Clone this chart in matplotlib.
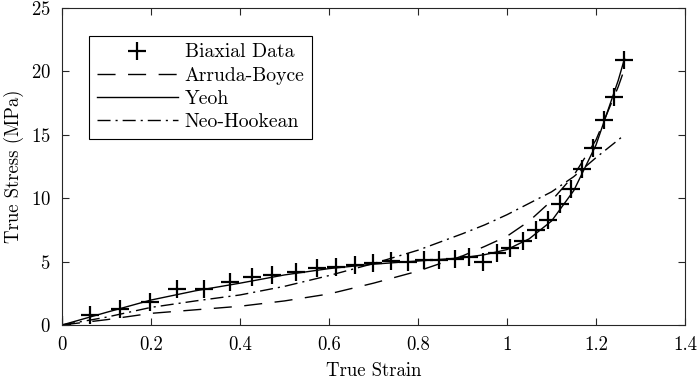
import matplotlib
matplotlib.use('Agg')
import matplotlib.pyplot as plt
import numpy as np

plt.rcParams['font.family'] = 'serif'
plt.rcParams['font.serif'] = ['cmr10']
plt.rcParams['mathtext.fontset'] = 'cm'
plt.rcParams['axes.formatter.use_mathtext'] = True

# Biaxial test data (true strain, true stress in MPa)
data_strain = [0, 0.063, 0.130, 0.198, 0.258, 0.318, 0.378, 0.426, 0.473, 0.526,
               0.572, 0.615, 0.658, 0.700, 0.739, 0.778, 0.814, 0.848, 0.883, 0.915,
               0.947, 0.977, 1.007, 1.037, 1.065, 1.093, 1.119, 1.143, 1.168, 1.194,
               1.218, 1.241, 1.264]
data_stress = [0, 0.79, 1.24, 1.84, 2.81, 2.81, 3.42, 3.81, 3.94, 4.2,
               4.52, 4.6, 4.73, 4.91, 5.05, 5.0, 5.13, 5.13, 5.18, 5.39,
               5.0, 5.65, 6.1, 6.6, 7.49, 8.28, 9.54, 10.7, 12.28, 13.94,
               16.2, 18.0, 20.9]

# Model fits
fit_strain = [0, 0.1, 0.2, 0.3, 0.4, 0.5, 0.6, 0.7, 0.8, 0.9, 0.95, 1.0,
              1.05, 1.1, 1.15, 1.2, 1.25, 1.264]
arruda_boyce = [0, 0.42, 0.92, 1.2, 1.48, 1.9, 2.45, 3.3, 4.25, 5.45, 6.2, 7.0,
                8.2, 9.8, 11.8, 14.6, 18.8, 20.2]
yeoh = [0, 1.0, 1.97, 2.7, 3.3, 3.95, 4.45, 4.8, 5.05, 5.3, 5.55, 5.95,
        6.8, 8.2, 10.6, 14.2, 19.3, 21.0]
neo_hookean = [0, 0.62, 1.39, 1.9, 2.37, 3.05, 3.9, 4.85, 5.9, 7.2, 7.9, 8.7,
               9.6, 10.5, 11.7, 13.2, 14.6, 15.0]

fig = plt.figure(figsize=(6.98, 3.84), dpi=100)
ax = fig.add_axes([0.0888, 0.1536, 0.8926, 0.8255])

ax.plot(data_strain, data_stress, '+', color='black', markersize=13,
        markeredgewidth=1.6, label='Biaxial Data')
ax.plot(fit_strain, arruda_boyce, color='black', linewidth=1.0,
        linestyle=(0, (13, 9)), label='Arruda-Boyce')
ax.plot(fit_strain, yeoh, color='black', linewidth=1.0, linestyle='-', label='Yeoh')
ax.plot(fit_strain, neo_hookean, color='black', linewidth=1.0,
        linestyle=(0, (9.4, 3.6, 1.5, 3.6)), label='Neo-Hookean')

ax.set_xlim(0, 1.4)
ax.set_ylim(0, 25)
ax.set_xticks([0, 0.2, 0.4, 0.6, 0.8, 1, 1.2, 1.4])
ax.set_xticklabels(['0', '0.2', '0.4', '0.6', '0.8', '1', '1.2', '1.4'])
ax.set_yticks([0, 5, 10, 15, 20, 25])
ax.tick_params(direction='in', top=True, right=True, length=5, width=0.8,
               labelsize=13.5, colors='#262626', labelcolor='black', pad=8)
for s in ax.spines.values():
    s.set_color('#262626')
    s.set_linewidth(0.8)

ax.set_xlabel('True Strain', fontsize=13.5, labelpad=6)
ax.set_ylabel('True Stress (MPa)', fontsize=13.5, labelpad=5)

leg = ax.legend(loc='upper left', bbox_to_anchor=(0.0433, 0.913), borderaxespad=0,
                fontsize=14.2, handlelength=4.1, handletextpad=0.35, labelspacing=0.27,
                fancybox=False, framealpha=1, edgecolor='black')
leg.get_frame().set_linewidth(0.8)

fig.savefig('out.png', dpi=100)
